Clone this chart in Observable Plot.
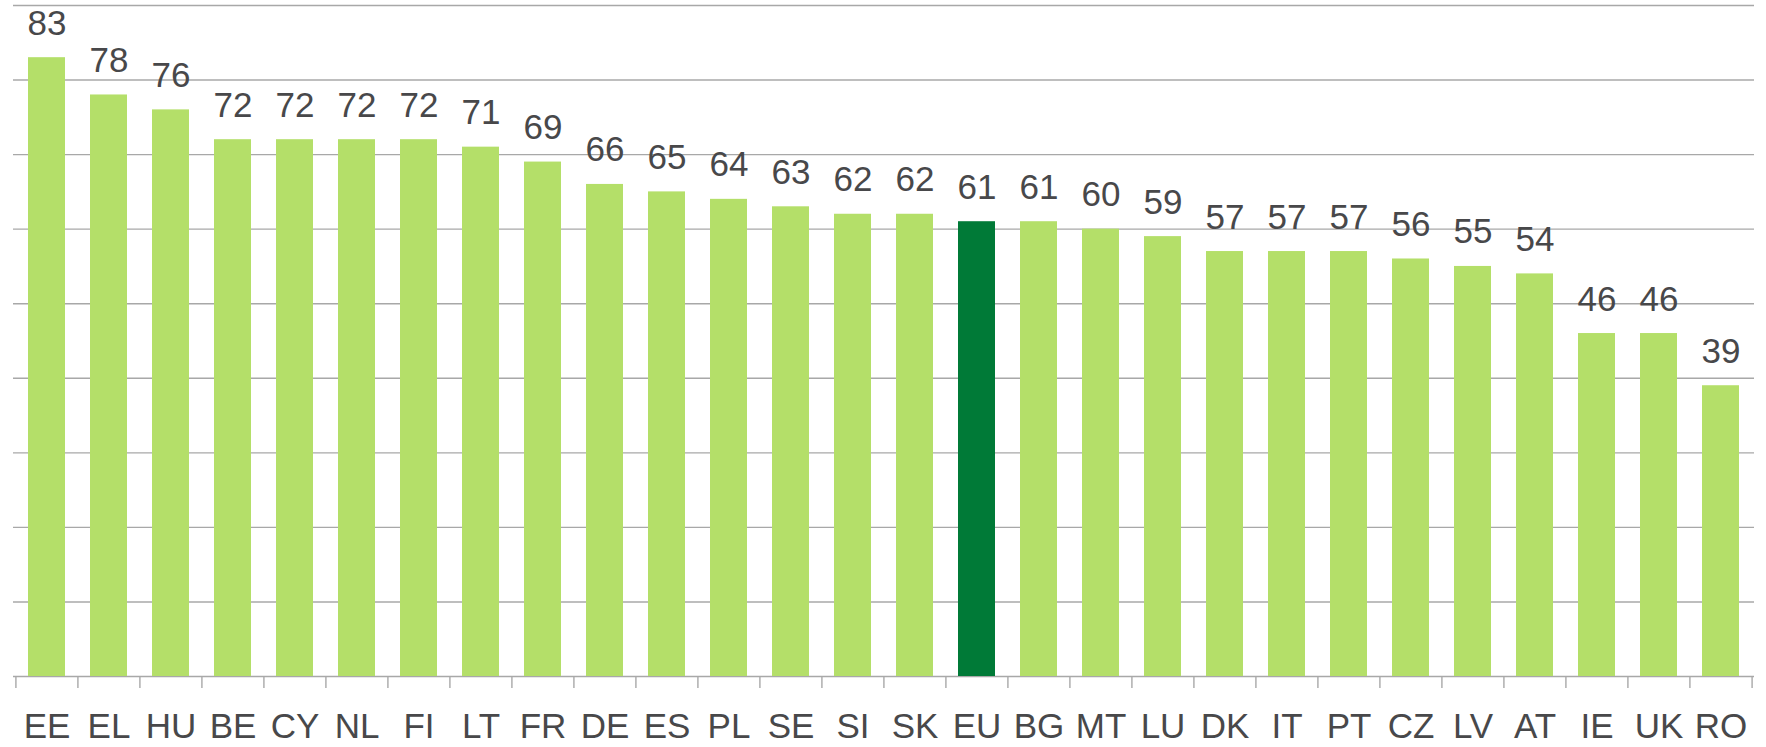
<!DOCTYPE html>
<html>
<head>
<meta charset="utf-8">
<script src="https://cdn.jsdelivr.net/npm/d3@7"></script>
<script src="https://cdn.jsdelivr.net/npm/@observablehq/plot@0.6"></script>
<style>
  html, body { margin: 0; padding: 0; background: #fff; }
  #chart svg { display: block; }
</style>
</head>
<body>
<div id="chart"></div>
<script>
const countries = ["EE","EL","HU","BE","CY","NL","FI","LT","FR","DE","ES","PL","SE","SI","SK","EU","BG","MT","LU","DK","IT","PT","CZ","LV","AT","IE","UK","RO"];
const values = [83,78,76,72,72,72,72,71,69,66,65,64,63,62,62,61,61,60,59,57,57,57,56,55,54,46,46,39];
const highlight = "EU";
const gridTicks = [10,20,30,40,50,60,70,80,90];

const data = countries.map((c, i) => ({country: c, value: values[i]}));

const W = 1766, H = 747;
const mL = 13, mR = 12, mT = 5, mB = 71;
const step = (W - mL - mR) / countries.length;

const lightGreen = "#b4df69";
const darkGreen = "#007a37";
const textColor = "#48484a";
const gridColor = "#a8a8a8";

const chart = Plot.plot({
  width: W,
  height: H,
  marginLeft: mL,
  marginRight: mR,
  marginTop: mT,
  marginBottom: mB,
  style: {fontFamily: "'Liberation Sans', Arial, sans-serif", color: textColor, background: "#fff"},
  x: {domain: countries, paddingInner: 0.4, paddingOuter: 0.2, label: null},
  y: {domain: [0, 90], axis: null},
  marks: [
    Plot.ruleY(gridTicks, {stroke: gridColor, strokeWidth: 1.4}),
    Plot.ruleY([0], {stroke: gridColor, strokeWidth: 1.4}),
    Plot.ruleX(countries, {x: d => d, y1: 0, y2: 0, insetBottom: -12, dx: -step / 2, stroke: gridColor, strokeWidth: 1.4}),
    Plot.ruleX([countries[countries.length - 1]], {x: d => d, y1: 0, y2: 0, insetBottom: -12, dx: step / 2, stroke: gridColor, strokeWidth: 1.4}),
    Plot.barY(data, {x: "country", y: "value", fill: d => d.country === highlight ? darkGreen : lightGreen}),
    Plot.text(data, {x: "country", y: "value", text: d => String(d.value), lineAnchor: "bottom", dy: -23, fontSize: 35, fill: textColor}),
    Plot.axisX({tickSize: 0, tickPadding: 37, fontSize: 35, fill: textColor, label: null})
  ]
});
document.getElementById("chart").appendChild(chart);
</script>
</body>
</html>
